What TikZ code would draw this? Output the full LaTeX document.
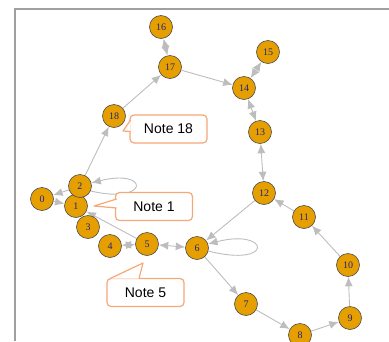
\documentclass[tikz,border=0pt]{standalone}
\usepackage{fontspec}
\usepackage{tikz}
\usetikzlibrary{arrows.meta,backgrounds}
\newfontfamily\numfont{Liberation Serif}
\newfontfamily\notefont{Liberation Sans}
\definecolor{vfill}{HTML}{E69F00}
\definecolor{vtext}{HTML}{22227A}
\definecolor{linkgray}{HTML}{BDBDBD}
\definecolor{notecol}{HTML}{F5A878}
\definecolor{framecol}{HTML}{A0A0A0}
\tikzset{
  vert/.style={circle, draw=black!70, line width=0.6pt, fill=vfill, inner sep=0pt,
    minimum size=23pt, text=vtext, font=\numfont\fontsize{10}{10}\selectfont},
  link/.style={draw=linkgray, line width=0.9pt, -{Latex[length=9.5pt,width=8pt]}},
  twoway/.style={link, {Latex[length=9.5pt,width=8pt]}-{Latex[length=9.5pt,width=8pt]}},
  note/.style={draw=notecol, line width=1.2pt, rounded corners=4pt, fill=white,
    minimum width=77pt, minimum height=28pt, font=\notefont\fontsize{14}{14}\selectfont},
  tail/.style={draw=notecol, line width=1.2pt, fill=white, line join=round}
}
\begin{document}
\begin{tikzpicture}[x=1pt,y=-1pt]
     \useasboundingbox (0,0) rectangle (389,341);
     % frame
     \draw[framecol, line width=1.5pt] (15,341) -- (15,9) -- (389,9);
     % vertices
     \node[vert] (n0) at (42,199) {0};
     \node[vert] (n1) at (76,206) {1};
     \node[vert] (n2) at (80,186) {2};
     \node[vert] (n3) at (88,227) {3};
     \node[vert] (n4) at (110,246) {4};
     \node[vert] (n5) at (147,244) {5};
     \node[vert] (n6) at (197,248) {6};
     \node[vert] (n7) at (246,304) {7};
     \node[vert] (n8) at (300,335) {8};
     \node[vert] (n9) at (350,318) {9};
     \node[vert] (n10) at (348,265) {10};
     \node[vert] (n11) at (304,217) {11};
     \node[vert] (n12) at (264,193) {12};
     \node[vert] (n13) at (260,132) {13};
     \node[vert] (n14) at (244,88) {14};
     \node[vert] (n15) at (268,52) {15};
     \node[vert] (n16) at (161,27) {16};
     \node[vert] (n17) at (170,67) {17};
     \node[vert] (n18) at (114,116) {18};
     % links
     \begin{pgfonlayer}{background}
     \draw[link] (n2) -- (n0);
     \draw[link] (n0) -- (n1);
     \draw[link] (n5) -- (n1);
     \draw[twoway] (n4) -- (n5);
     \draw[twoway] (n5) -- (n6);
     \draw[link] (n12) -- (n6);
     \draw[link] (n6) -- (n7);
     \draw[link] (n7) -- (n8);
     \draw[link] (n8) -- (n9);
     \draw[link] (n9) -- (n10);
     \draw[link] (n10) -- (n11);
     \draw[link] (n11) -- (n12);
     \draw[twoway] (n12) -- (n13);
     \draw[twoway] (n13) -- (n14);
     \draw[twoway] (n14) -- (n15);
     \draw[link] (n17) -- (n14);
     \draw[twoway] (n16) -- (n17);
     \draw[link] (n18) -- (n17);
     \draw[link] (n2) -- (n18);
     \draw[link] (n2.-25) .. controls (150,205) and (150,168) .. (n2.15);
     \draw[link] (n6.-15) .. controls (275,268) and (270,228) .. (n6.20);
     \end{pgfonlayer}
     % notes
     \node[note] (note18) at (168.5,129) {Note 18};
     \node[note] (note1) at (154,206.5) {Note 1};
     \node[note] (note5) at (145.5,292.5) {Note 5};
     \draw[tail] (130.6,120) -- (123,131) -- (130.6,131.5);
     \draw[tail] (116.6,199) -- (94,206) -- (116.6,208);
     \draw[tail] (110,278.6) -- (143,263) -- (139,278.6);
\end{tikzpicture}
\end{document}
